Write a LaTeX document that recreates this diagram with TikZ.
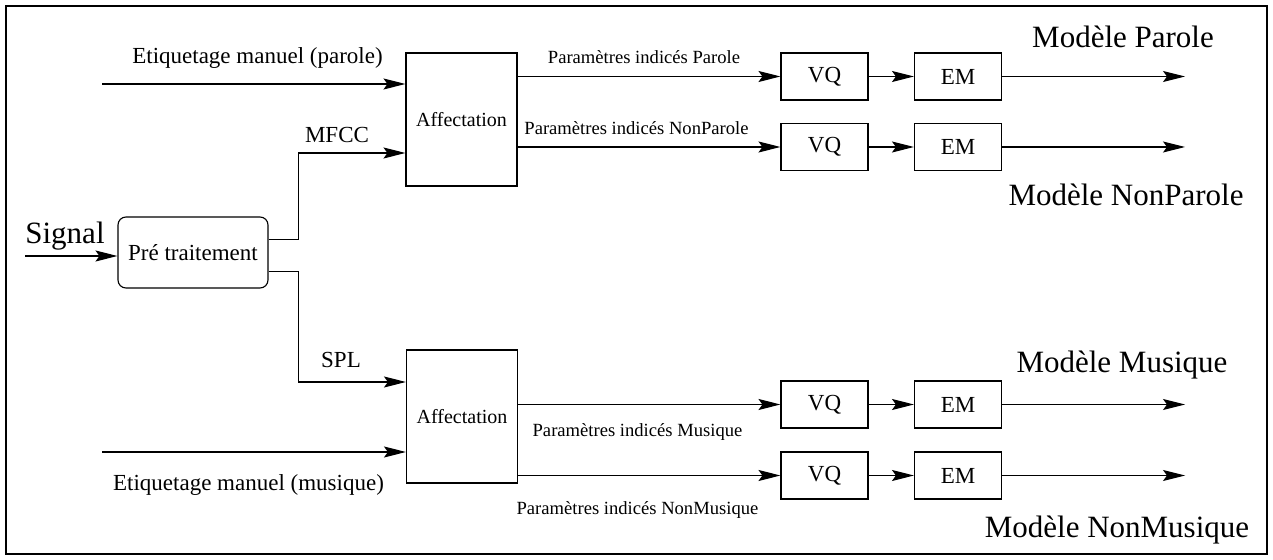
\documentclass[tikz,border=0pt]{standalone}
\usepackage{fontspec}
\setmainfont{Liberation Serif}
\usetikzlibrary{arrows.meta}

\begin{document}
\begin{tikzpicture}[x=0.5pt,y=-0.5pt,>={Stealth[length=11pt,width=5.5pt,inset=2pt]},
	line width=0.55pt,
	bloc/.style={draw,inner sep=0pt,minimum width=43.5pt,minimum height=23.5pt,font=\fontsize{11.5}{13}\selectfont},
	affect/.style={draw,inner sep=0pt,minimum width=55.5pt,minimum height=66.5pt,font=\fontsize{10}{12}\selectfont},
	petit/.style={font=\fontsize{11.5}{13}\selectfont},
	param/.style={font=\fontsize{9.3}{11}\selectfont},
	grand/.style={font=\fontsize{15.5}{18}\selectfont}]

\useasboundingbox (0,0) rectangle (1273,560);
\draw[line width=1.3pt] (6,6) rectangle (1267,554);

% Pretraitement
\node[draw,rounded corners=4pt,inner sep=0pt,minimum width=75pt,minimum height=35.5pt,petit] (pre) at (193,252.5) {Pré traitement};
\node[grand] (signal) at (65,236) {Signal};
\coordinate (sig) at (25,256);
\draw[->] (sig) -- (sig -| pre.west);

% Affectation
\node[affect] (affP) at (461.5,119.5) {Affectation};
\node[affect] (affM) at (462,416.5) {Affectation};

% Etiquetage manuel
\node[petit] (etiqP) at (257.5,58) {Etiquetage manuel (parole)};
\node[petit] (etiqM) at (248.5,485) {Etiquetage manuel (musique)};
\coordinate (eP) at (102,84);
\coordinate (eM) at (102,452);
\draw[->] (eP) -- (eP -| affP.west);
\draw[->] (eM) -- (eM -| affM.west);

% MFCC et SPL
\draw[->] ([yshift=6.5pt]pre.east) -- ++(15pt,0) |- ([yshift=-16.75pt]affP.west);
\draw[->] ([yshift=-9.5pt]pre.east) -- ++(15pt,0) |- ([yshift=17.25pt]affM.west);
\node[petit] (mfcc) at (337,135) {MFCC};
\node[petit] (spl) at (341,360) {SPL};

% VQ et EM
\node[bloc] (vq1) at (824.5,76.5) {VQ};
\node[bloc] (vq2) at (824.5,147) {VQ};
\node[bloc] (vq3) at (824.5,404.5) {VQ};
\node[bloc] (vq4) at (824.5,475.5) {VQ};
\node[bloc] (em1) at (958,76.5) {EM};
\node[bloc] (em2) at (958,147) {EM};
\node[bloc] (em3) at (958,404.5) {EM};
\node[bloc] (em4) at (958,475.5) {EM};

\draw[->] (vq1 -| affP.east) -- (vq1.west);
\draw[->] (vq2 -| affP.east) -- (vq2.west);
\draw[->] (vq3 -| affM.east) -- (vq3.west);
\draw[->] (vq4 -| affM.east) -- (vq4.west);

\node[param] (pP) at (644,57) {Paramètres indicés Parole};
\node[param] (pNP) at (636.5,128) {Paramètres indicés NonParole};
\node[param] (pM) at (637.5,432) {Paramètres indicés Musique};
\node[param] (pNM) at (637.5,510) {Paramètres indicés NonMusique};

\foreach \i in {1,...,4}
	\draw[->] (vq\i) -- (em\i);

% Modeles
\coordinate (o1) at (1185,76.5);
\coordinate (o2) at (1185,147);
\coordinate (o3) at (1185,404.5);
\coordinate (o4) at (1185,475.5);
\foreach \i in {1,...,4}
	\draw[->] (em\i) -- (o\i);

\node[grand] (mP) at (1123,37) {Modèle Parole};
\node[grand] (mNP) at (1126,195) {Modèle NonParole};
\node[grand] (mM) at (1122,365) {Modèle Musique};
\node[grand] (mNM) at (1117,530) {Modèle NonMusique};

\end{tikzpicture}
\end{document}
